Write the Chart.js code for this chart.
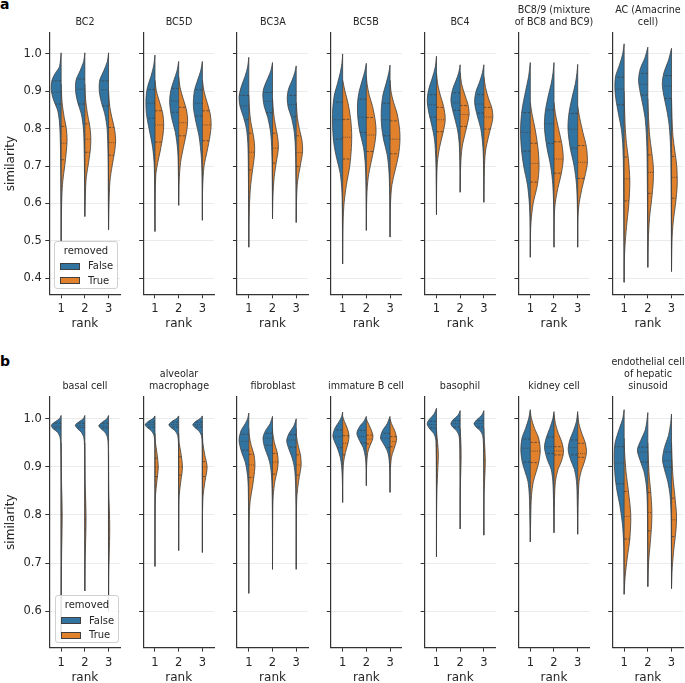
<!DOCTYPE html>
<html><head><meta charset="utf-8">
<script src="https://cdn.jsdelivr.net/npm/chart.js@4.4.1/dist/chart.umd.min.js"></script>
<style>
html,body{margin:0;padding:0;background:#fff;}
body{width:685px;height:683px;overflow:hidden;position:relative;font-family:"DejaVu Sans",sans-serif;color:#262626;}
canvas{position:absolute;}
.plab{position:absolute;font-weight:bold;font-size:14px;line-height:14px;color:#000;}
.leg{position:absolute;background:rgba(255,255,255,0.85);border:1px solid #d0d0d0;border-radius:3px;box-sizing:border-box;font-size:10px;}
.leg .t{position:absolute;left:0;right:0;text-align:center;line-height:12px;}
.leg .p{position:absolute;width:20px;height:7px;border:0.8px solid #3f3f3f;box-sizing:border-box;}
.leg .l{position:absolute;line-height:12px;}
</style></head>
<body>
<div class="plab" style="left:0px;top:-3px">a</div>
<div class="plab" style="left:0px;top:354px">b</div>
<script>
// ---------- labels ----------
const rankLabels = ['1', '2', '3'];
const yTicksA = [0.4, 0.5, 0.6, 0.7, 0.8, 0.9, 1.0];
const yTicksB = [0.6, 0.7, 0.8, 0.9, 1.0];
const titlesA = [['BC2'], ['BC5D'], ['BC3A'], ['BC5B'], ['BC4'], ['BC8/9 (mixture', 'of BC8 and BC9)'], ['AC (Amacrine', 'cell)']];
const titlesB = [['basal cell'], ['alveolar', 'macrophage'], ['fibroblast'], ['immature B cell'], ['basophil'], ['kidney cell'], ['endothelial cell', 'of hepatic', 'sinusoid']];
const seriesNames = ['False', 'True'];

// ---------- violin profiles: per rank, [similarity, half-width] from bottom to top ----------
// quartiles: per rank [Q1, median, Q3]
const BC2_F = [
  [[0.5,0],[0.6,0.01],[0.7,0.02],[0.78,0.04],[0.823,0.08],[0.85,0.15],[0.877,0.32],[0.905,0.42],[0.928,0.39],[0.94,0.32],[0.953,0.2],[0.966,0.07],[1.003,0]],
  [[0.565,0],[0.65,0.01],[0.75,0.03],[0.8,0.06],[0.84,0.15],[0.87,0.3],[0.9,0.39],[0.93,0.37],[0.955,0.2],[0.98,0.05],[1.003,0]],
  [[0.53,0],[0.62,0.01],[0.72,0.02],[0.8,0.06],[0.84,0.16],[0.87,0.3],[0.9,0.39],[0.93,0.37],[0.955,0.2],[0.98,0.05],[1.003,0]]];
const BC2_T = [
  [[0.5,0],[0.56,0.01],[0.62,0.03],[0.66,0.07],[0.7,0.15],[0.74,0.22],[0.77,0.25],[0.8,0.22],[0.83,0.13],[0.87,0.04],[0.92,0]],
  [[0.565,0],[0.62,0.02],[0.67,0.06],[0.71,0.16],[0.75,0.24],[0.78,0.25],[0.81,0.2],[0.84,0.11],[0.88,0.03],[0.92,0]],
  [[0.53,0],[0.6,0.02],[0.66,0.06],[0.7,0.15],[0.74,0.26],[0.77,0.3],[0.8,0.25],[0.83,0.14],[0.86,0.05],[0.9,0]]];
const BC2_FQ = [[0.866,0.898,0.928],[0.866,0.906,0.933],[0.861,0.904,0.928]];
const BC2_TQ = [[0.717,0.761,0.806],[0.737,0.772,0.813],[0.729,0.763,0.803]];

const BC5D_F = [
  [[0.525,0],[0.6,0.01],[0.7,0.03],[0.75,0.1],[0.8,0.25],[0.84,0.36],[0.88,0.38],[0.91,0.32],[0.94,0.17],[0.97,0.05],[0.997,0]],
  [[0.595,0],[0.67,0.01],[0.74,0.04],[0.79,0.14],[0.83,0.3],[0.87,0.38],[0.9,0.34],[0.93,0.2],[0.955,0.07],[0.98,0]],
  [[0.555,0],[0.65,0.01],[0.72,0.04],[0.78,0.14],[0.82,0.28],[0.86,0.38],[0.9,0.34],[0.93,0.2],[0.955,0.07],[0.98,0]]];
const BC5D_T = [
  [[0.525,0],[0.62,0.01],[0.68,0.04],[0.71,0.12],[0.74,0.22],[0.78,0.33],[0.81,0.37],[0.84,0.33],[0.87,0.2],[0.9,0.06],[0.93,0]],
  [[0.595,0],[0.66,0.02],[0.71,0.08],[0.75,0.2],[0.79,0.33],[0.82,0.38],[0.85,0.33],[0.88,0.19],[0.91,0.06],[0.94,0]],
  [[0.555,0],[0.64,0.01],[0.7,0.07],[0.74,0.2],[0.78,0.32],[0.81,0.37],[0.84,0.33],[0.87,0.2],[0.9,0.07],[0.93,0]]];
const BC5D_FQ = [[0.828,0.868,0.905],[0.844,0.874,0.908],[0.834,0.868,0.904]];
const BC5D_TQ = [[0.764,0.81,0.848],[0.781,0.816,0.857],[0.768,0.81,0.848]];

const BC3A_F = [
  [[0.483,0],[0.6,0.01],[0.7,0.02],[0.76,0.04],[0.8,0.1],[0.83,0.22],[0.86,0.37],[0.885,0.41],[0.91,0.33],[0.94,0.16],[0.965,0.05],[0.991,0]],
  [[0.559,0],[0.65,0.01],[0.74,0.03],[0.79,0.08],[0.83,0.2],[0.86,0.35],[0.89,0.41],[0.91,0.36],[0.935,0.2],[0.955,0.07],[0.977,0]],
  [[0.549,0],[0.65,0.01],[0.74,0.03],[0.79,0.08],[0.83,0.2],[0.855,0.33],[0.88,0.38],[0.905,0.33],[0.93,0.17],[0.95,0.06],[0.968,0]]];
const BC3A_T = [
  [[0.483,0],[0.55,0.01],[0.6,0.03],[0.65,0.08],[0.69,0.16],[0.73,0.24],[0.76,0.24],[0.79,0.17],[0.82,0.08],[0.85,0.03],[0.89,0]],
  [[0.559,0],[0.62,0.02],[0.67,0.07],[0.71,0.16],[0.75,0.25],[0.78,0.21],[0.81,0.12],[0.84,0.05],[0.88,0]],
  [[0.549,0],[0.62,0.02],[0.66,0.06],[0.7,0.17],[0.74,0.27],[0.77,0.24],[0.8,0.13],[0.83,0.05],[0.87,0]]];
const BC3A_FQ = [[0.824,0.861,0.889],[0.843,0.873,0.897],[0.832,0.865,0.889]];
const BC3A_TQ = [[0.69,0.737,0.788],[0.708,0.748,0.788],[0.699,0.736,0.781]];

const BC5B_F = [
  [[0.438,0],[0.55,0.01],[0.63,0.03],[0.68,0.1],[0.72,0.25],[0.76,0.37],[0.8,0.42],[0.85,0.42],[0.89,0.35],[0.92,0.22],[0.95,0.1],[0.975,0.03],[1.0,0]],
  [[0.528,0],[0.62,0.01],[0.7,0.04],[0.75,0.12],[0.79,0.27],[0.83,0.36],[0.87,0.37],[0.9,0.3],[0.93,0.17],[0.955,0.06],[0.975,0]],
  [[0.51,0],[0.6,0.01],[0.68,0.04],[0.73,0.12],[0.77,0.27],[0.81,0.36],[0.85,0.37],[0.89,0.3],[0.92,0.17],[0.95,0.05],[0.97,0]]];
const BC5B_T = [
  [[0.438,0],[0.55,0.02],[0.6,0.06],[0.65,0.16],[0.7,0.3],[0.75,0.37],[0.79,0.38],[0.83,0.33],[0.87,0.22],[0.9,0.1],[0.93,0]],
  [[0.528,0],[0.62,0.02],[0.67,0.08],[0.71,0.2],[0.75,0.33],[0.79,0.41],[0.82,0.38],[0.86,0.26],[0.89,0.12],[0.92,0.03],[0.94,0]],
  [[0.51,0],[0.6,0.02],[0.65,0.08],[0.69,0.22],[0.73,0.36],[0.77,0.42],[0.8,0.4],[0.84,0.3],[0.87,0.15],[0.9,0.04],[0.93,0]]];
const BC5B_FQ = [[0.772,0.824,0.871],[0.79,0.831,0.879],[0.781,0.824,0.868]];
const BC5B_TQ = [[0.719,0.777,0.825],[0.739,0.783,0.83],[0.733,0.772,0.821]];

const BC4_F = [
  [[0.57,0],[0.65,0.01],[0.72,0.03],[0.77,0.08],[0.81,0.2],[0.845,0.33],[0.875,0.39],[0.905,0.33],[0.935,0.18],[0.965,0.05],[0.994,0]],
  [[0.63,0],[0.7,0.01],[0.76,0.04],[0.8,0.12],[0.84,0.28],[0.875,0.39],[0.905,0.32],[0.93,0.17],[0.95,0.06],[0.971,0]],
  [[0.603,0],[0.69,0.01],[0.75,0.04],[0.8,0.13],[0.835,0.28],[0.87,0.39],[0.9,0.33],[0.925,0.18],[0.95,0.06],[0.971,0]]];
const BC4_T = [
  [[0.57,0],[0.66,0.01],[0.71,0.04],[0.75,0.13],[0.79,0.28],[0.825,0.37],[0.86,0.3],[0.89,0.16],[0.92,0.05],[0.95,0]],
  [[0.63,0],[0.7,0.02],[0.75,0.08],[0.79,0.22],[0.82,0.33],[0.84,0.38],[0.865,0.33],[0.89,0.2],[0.92,0.06],[0.95,0]],
  [[0.603,0],[0.69,0.02],[0.74,0.07],[0.78,0.2],[0.81,0.32],[0.83,0.38],[0.855,0.34],[0.88,0.2],[0.91,0.07],[0.94,0]]];
const BC4_FQ = [[0.831,0.864,0.891],[0.849,0.869,0.896],[0.842,0.866,0.891]];
const BC4_TQ = [[0.792,0.824,0.857],[0.806,0.838,0.862],[0.799,0.831,0.857]];

const BC89_F = [
  [[0.456,0],[0.55,0.01],[0.6,0.04],[0.65,0.12],[0.7,0.28],[0.75,0.38],[0.8,0.41],[0.85,0.35],[0.9,0.2],[0.94,0.07],[0.977,0]],
  [[0.483,0],[0.58,0.01],[0.65,0.05],[0.7,0.14],[0.75,0.3],[0.8,0.4],[0.84,0.38],[0.88,0.27],[0.92,0.12],[0.95,0.04],[0.977,0]],
  [[0.483,0],[0.58,0.01],[0.65,0.05],[0.7,0.15],[0.75,0.32],[0.8,0.41],[0.84,0.37],[0.88,0.25],[0.92,0.1],[0.95,0.03],[0.972,0]]];
const BC89_T = [
  [[0.456,0],[0.52,0.01],[0.55,0.03],[0.6,0.12],[0.65,0.3],[0.7,0.37],[0.75,0.32],[0.8,0.2],[0.84,0.07],[0.87,0]],
  [[0.483,0],[0.56,0.01],[0.6,0.05],[0.64,0.16],[0.68,0.31],[0.72,0.39],[0.76,0.33],[0.8,0.19],[0.84,0.06],[0.87,0]],
  [[0.483,0],[0.56,0.01],[0.6,0.06],[0.64,0.18],[0.68,0.33],[0.71,0.41],[0.75,0.37],[0.79,0.22],[0.83,0.08],[0.86,0]]];
const BC89_FQ = [[0.74,0.79,0.843],[0.761,0.813,0.85],[0.748,0.799,0.841]];
const BC89_TQ = [[0.657,0.707,0.761],[0.681,0.719,0.765],[0.667,0.71,0.755]];

const AC_F = [
  [[0.389,0],[0.5,0.01],[0.6,0.02],[0.7,0.03],[0.76,0.06],[0.8,0.12],[0.84,0.24],[0.88,0.35],[0.91,0.39],[0.94,0.36],[0.97,0.2],[1.0,0.06],[1.027,0]],
  [[0.429,0],[0.55,0.01],[0.65,0.02],[0.75,0.04],[0.82,0.1],[0.86,0.2],[0.9,0.33],[0.93,0.39],[0.96,0.32],[0.99,0.12],[1.018,0]],
  [[0.418,0],[0.55,0.01],[0.65,0.02],[0.75,0.04],[0.81,0.1],[0.85,0.2],[0.89,0.33],[0.92,0.39],[0.95,0.32],[0.985,0.12],[1.015,0]]];
const AC_T = [
  [[0.389,0],[0.45,0.01],[0.5,0.05],[0.55,0.12],[0.6,0.2],[0.66,0.24],[0.72,0.18],[0.76,0.1],[0.8,0.05],[0.85,0.02],[0.9,0]],
  [[0.429,0],[0.5,0.02],[0.56,0.07],[0.61,0.16],[0.66,0.23],[0.7,0.23],[0.74,0.16],[0.78,0.08],[0.83,0.03],[0.88,0]],
  [[0.418,0],[0.5,0.02],[0.55,0.07],[0.6,0.17],[0.65,0.24],[0.7,0.22],[0.74,0.14],[0.78,0.06],[0.83,0.02],[0.88,0]]];
const AC_FQ = [[0.864,0.906,0.938],[0.89,0.919,0.948],[0.881,0.914,0.942]];
const AC_TQ = [[0.607,0.666,0.724],[0.627,0.683,0.73],[0.614,0.67,0.726]];

const BAS_F = [
  [[0.55,0],[0.8,0.005],[0.93,0.01],[0.96,0.04],[0.972,0.15],[0.98,0.35],[0.987,0.41],[0.994,0.25],[1.0,0.07],[1.007,0]],
  [[0.642,0],[0.85,0.005],[0.93,0.01],[0.96,0.04],[0.972,0.15],[0.98,0.32],[0.987,0.4],[0.994,0.24],[1.0,0.07],[1.007,0]],
  [[0.6,0],[0.85,0.005],[0.93,0.01],[0.96,0.04],[0.972,0.15],[0.98,0.33],[0.986,0.41],[0.994,0.24],[1.0,0.07],[1.007,0]]];
const BAS_T = [
  [[0.55,0],[0.65,0.005],[0.72,0.02],[0.76,0.035],[0.8,0.045],[0.84,0.03],[0.88,0.01],[0.95,0]],
  [[0.642,0],[0.7,0.01],[0.74,0.03],[0.79,0.05],[0.83,0.035],[0.87,0.01],[0.95,0]],
  [[0.6,0],[0.68,0.01],[0.72,0.03],[0.77,0.05],[0.81,0.035],[0.85,0.01],[0.93,0]]];
const BAS_FQ = [[0.981,0.985,0.991],[0.982,0.986,0.991],[0.981,0.985,0.991]];
const BAS_TQ = [[0.76,0.8,0.83],[0.77,0.79,0.82],[0.75,0.77,0.8]];

const ALV_F = [
  [[0.693,0],[0.9,0.005],[0.95,0.01],[0.965,0.04],[0.975,0.15],[0.982,0.33],[0.988,0.41],[0.995,0.27],[1.0,0.1],[1.006,0]],
  [[0.726,0],[0.9,0.005],[0.95,0.01],[0.965,0.04],[0.975,0.15],[0.982,0.33],[0.988,0.41],[0.995,0.27],[1.0,0.1],[1.006,0]],
  [[0.722,0],[0.9,0.005],[0.95,0.01],[0.965,0.04],[0.975,0.15],[0.982,0.32],[0.988,0.4],[0.995,0.27],[1.0,0.1],[1.006,0]]];
const ALV_T = [
  [[0.693,0],[0.8,0.005],[0.84,0.02],[0.87,0.08],[0.9,0.14],[0.93,0.08],[0.95,0.02],[0.97,0]],
  [[0.726,0],[0.8,0.005],[0.84,0.02],[0.87,0.09],[0.9,0.16],[0.93,0.09],[0.95,0.02],[0.97,0]],
  [[0.722,0],[0.8,0.005],[0.84,0.03],[0.87,0.11],[0.9,0.2],[0.925,0.1],[0.95,0.02],[0.97,0]]];
const ALV_FQ = [[0.983,0.988,0.993],[0.983,0.988,0.993],[0.983,0.988,0.993]];
const ALV_TQ = [[0.88,0.9,0.918],[0.883,0.9,0.921],[0.88,0.9,0.911]];

const FIB_F = [
  [[0.637,0],[0.75,0.005],[0.85,0.02],[0.88,0.05],[0.91,0.15],[0.93,0.3],[0.955,0.41],[0.975,0.33],[0.99,0.15],[1.0,0.05],[1.012,0]],
  [[0.687,0],[0.8,0.005],[0.87,0.03],[0.9,0.08],[0.92,0.18],[0.94,0.33],[0.96,0.4],[0.975,0.3],[0.99,0.1],[1.005,0]],
  [[0.687,0],[0.8,0.005],[0.87,0.03],[0.9,0.08],[0.92,0.18],[0.94,0.33],[0.955,0.4],[0.97,0.3],[0.985,0.1],[1.0,0]]];
const FIB_T = [
  [[0.637,0],[0.75,0.01],[0.8,0.02],[0.83,0.06],[0.86,0.16],[0.89,0.24],[0.905,0.26],[0.925,0.22],[0.945,0.1],[0.965,0.02],[0.98,0]],
  [[0.687,0],[0.8,0.01],[0.84,0.03],[0.87,0.1],[0.89,0.19],[0.91,0.24],[0.93,0.2],[0.95,0.08],[0.97,0.01],[0.98,0]],
  [[0.687,0],[0.8,0.01],[0.84,0.03],[0.87,0.1],[0.89,0.17],[0.905,0.21],[0.925,0.18],[0.945,0.08],[0.965,0.01],[0.98,0]]];
const FIB_FQ = [[0.935,0.953,0.968],[0.945,0.96,0.97],[0.941,0.956,0.967]];
const FIB_TQ = [[0.878,0.904,0.926],[0.885,0.91,0.928],[0.883,0.904,0.925]];

const IMB_F = [
  [[0.826,0],[0.87,0.01],[0.9,0.04],[0.92,0.1],[0.94,0.23],[0.955,0.36],[0.965,0.41],[0.98,0.33],[0.995,0.14],[1.005,0.04],[1.014,0]],
  [[0.861,0],[0.9,0.01],[0.92,0.04],[0.94,0.13],[0.955,0.29],[0.97,0.4],[0.985,0.27],[0.995,0.1],[1.005,0]],
  [[0.847,0],[0.89,0.01],[0.92,0.05],[0.935,0.13],[0.95,0.3],[0.96,0.4],[0.975,0.32],[0.99,0.12],[1.005,0]]];
const IMB_T = [
  [[0.826,0],[0.88,0.01],[0.91,0.04],[0.93,0.12],[0.95,0.23],[0.965,0.27],[0.98,0.2],[0.995,0.07],[1.005,0]],
  [[0.861,0],[0.9,0.01],[0.93,0.06],[0.945,0.16],[0.955,0.25],[0.965,0.28],[0.98,0.18],[0.995,0.04],[1.0,0]],
  [[0.847,0],[0.89,0.01],[0.92,0.06],[0.935,0.15],[0.95,0.25],[0.96,0.28],[0.975,0.2],[0.99,0.06],[1.0,0]]];
const IMB_FQ = [[0.94,0.963,0.977],[0.95,0.963,0.976],[0.94,0.96,0.97]];
const IMB_TQ = [[0.925,0.949,0.965],[0.948,0.958,0.966],[0.942,0.953,0.963]];

const BASO_F = [
  [[0.713,0],[0.9,0.005],[0.95,0.02],[0.96,0.04],[0.97,0.12],[0.98,0.3],[0.989,0.39],[0.997,0.33],[1.01,0.1],[1.022,0]],
  [[0.771,0],[0.9,0.005],[0.95,0.02],[0.965,0.05],[0.975,0.15],[0.983,0.32],[0.99,0.39],[0.998,0.3],[1.008,0.08],[1.017,0]],
  [[0.758,0],[0.9,0.005],[0.95,0.02],[0.965,0.05],[0.975,0.15],[0.983,0.33],[0.99,0.41],[0.998,0.3],[1.008,0.08],[1.017,0]]];
const BASO_T = [
  [[0.713,0],[0.8,0.005],[0.85,0.02],[0.9,0.06],[0.925,0.08],[0.95,0.05],[0.97,0.01],[0.98,0]],
  [[0.771,0],[0.85,0.005],[0.88,0.02],[0.92,0.04],[0.95,0.03],[0.97,0.01],[0.98,0]],
  [[0.758,0],[0.84,0.005],[0.87,0.03],[0.91,0.06],[0.94,0.04],[0.965,0.01],[0.98,0]]];
const BASO_FQ = [[0.981,0.988,0.995],[0.983,0.99,0.996],[0.983,0.99,0.996]];
const BASO_TQ = [[0.866,0.908,0.944],[0.89,0.92,0.94],[0.89,0.915,0.935]];

const KID_F = [
  [[0.744,0],[0.8,0.02],[0.84,0.04],[0.87,0.1],[0.89,0.22],[0.91,0.34],[0.935,0.4],[0.96,0.35],[0.98,0.2],[1.0,0.07],[1.019,0]],
  [[0.763,0],[0.83,0.02],[0.87,0.05],[0.895,0.12],[0.915,0.28],[0.94,0.4],[0.96,0.33],[0.98,0.18],[1.0,0.05],[1.015,0]],
  [[0.76,0],[0.83,0.02],[0.87,0.05],[0.895,0.14],[0.915,0.3],[0.935,0.4],[0.955,0.34],[0.975,0.18],[0.995,0.05],[1.015,0]]];
const KID_T = [
  [[0.744,0],[0.8,0.02],[0.84,0.05],[0.87,0.13],[0.89,0.25],[0.91,0.36],[0.935,0.42],[0.96,0.35],[0.98,0.18],[1.0,0.05],[1.015,0]],
  [[0.763,0],[0.83,0.02],[0.87,0.06],[0.895,0.17],[0.91,0.3],[0.93,0.4],[0.95,0.34],[0.97,0.18],[0.99,0.06],[1.01,0]],
  [[0.76,0],[0.83,0.02],[0.87,0.06],[0.89,0.14],[0.91,0.28],[0.93,0.37],[0.95,0.32],[0.97,0.17],[0.99,0.05],[1.01,0]]];
const KID_FQ = [[0.91,0.939,0.958],[0.928,0.942,0.962],[0.925,0.94,0.956]];
const KID_TQ = [[0.909,0.933,0.951],[0.925,0.933,0.942],[0.92,0.928,0.949]];

const END_F = [
  [[0.635,0],[0.7,0.01],[0.74,0.02],[0.78,0.07],[0.82,0.18],[0.85,0.3],[0.88,0.38],[0.92,0.42],[0.95,0.38],[0.98,0.2],[1.0,0.06],[1.019,0]],
  [[0.651,0],[0.75,0.01],[0.82,0.02],[0.86,0.06],[0.89,0.16],[0.91,0.3],[0.935,0.44],[0.955,0.3],[0.975,0.12],[0.995,0.04],[1.013,0]],
  [[0.647,0],[0.75,0.01],[0.8,0.02],[0.84,0.06],[0.87,0.16],[0.895,0.3],[0.915,0.38],[0.94,0.3],[0.965,0.13],[0.99,0.04],[1.01,0]]];
const END_T = [
  [[0.635,0],[0.67,0.04],[0.71,0.13],[0.75,0.24],[0.8,0.28],[0.85,0.18],[0.89,0.08],[0.93,0.02],[0.96,0]],
  [[0.651,0],[0.7,0.03],[0.74,0.1],[0.78,0.16],[0.81,0.17],[0.85,0.12],[0.88,0.06],[0.92,0.02],[0.95,0]],
  [[0.647,0],[0.69,0.03],[0.73,0.1],[0.77,0.19],[0.8,0.21],[0.84,0.14],[0.88,0.06],[0.92,0.02],[0.95,0]]];
const END_FQ = [[0.865,0.908,0.942],[0.91,0.931,0.941],[0.9,0.913,0.931]];
const END_TQ = [[0.75,0.797,0.849],[0.767,0.805,0.847],[0.755,0.79,0.835]];

// ---------- styling / layout ----------
const BLUE = '#3274a1', ORANGE = '#e1812c', EDGE = '#3f3f3f', TXT = '#262626';
const FONT = "'DejaVu Sans', sans-serif";
const rows = {
  a: {canvasTop: 0, chartTop: 33, chartBottom: 294.3, yMin: 0.357, yMax: 1.056, ticks: yTicksA, titleCenter: 22},
  b: {canvasTop: 340, chartTop: 396.7, chartBottom: 647.7, yMin: 0.524, yMax: 1.046, ticks: yTicksB, titleCenter: 386}
};
const panelList = [
  ['a', titlesA[0], BC2_F, BC2_T, BC2_FQ, BC2_TQ],
  ['a', titlesA[1], BC5D_F, BC5D_T, BC5D_FQ, BC5D_TQ],
  ['a', titlesA[2], BC3A_F, BC3A_T, BC3A_FQ, BC3A_TQ],
  ['a', titlesA[3], BC5B_F, BC5B_T, BC5B_FQ, BC5B_TQ],
  ['a', titlesA[4], BC4_F, BC4_T, BC4_FQ, BC4_TQ],
  ['a', titlesA[5], BC89_F, BC89_T, BC89_FQ, BC89_TQ],
  ['a', titlesA[6], AC_F, AC_T, AC_FQ, AC_TQ],
  ['b', titlesB[0], BAS_F, BAS_T, BAS_FQ, BAS_TQ],
  ['b', titlesB[1], ALV_F, ALV_T, ALV_FQ, ALV_TQ],
  ['b', titlesB[2], FIB_F, FIB_T, FIB_FQ, FIB_TQ],
  ['b', titlesB[3], IMB_F, IMB_T, IMB_FQ, IMB_TQ],
  ['b', titlesB[4], BASO_F, BASO_T, BASO_FQ, BASO_TQ],
  ['b', titlesB[5], KID_F, KID_T, KID_FQ, KID_TQ],
  ['b', titlesB[6], END_F, END_T, END_FQ, END_TQ]
];

function widthAt(prof, y) {
  for (let i = 1; i < prof.length; i++) {
    const [y0, w0] = prof[i - 1], [y1, w1] = prof[i];
    if (y >= y0 && y <= y1) return w0 + (w1 - w0) * (y - y0) / (y1 - y0);
  }
  return 0;
}

function buildDatasets(F, T, FQ, TQ) {
  const ds = [];
  for (let r = 0; r < 3; r++) {
    const halves = [[F[r], FQ[r], -1, BLUE], [T[r], TQ[r], 1, ORANGE]];
    for (const [prof, quart, sgn, col] of halves) {
      ds.push({
        data: prof.map(([y, w]) => ({x: r + sgn * w, y})),
        showLine: true, fill: 'shape', backgroundColor: col, borderColor: EDGE,
        borderWidth: 0.8, pointRadius: 0, tension: 0.3, order: 3
      });
      quart.forEach((q, k) => {
        ds.push({
          data: [{x: r, y: q}, {x: r + sgn * widthAt(prof, q), y: q}],
          showLine: true, fill: false, borderColor: EDGE, borderWidth: 0.75,
          borderDash: k === 1 ? [1, 1.2] : [2.6, 1.4], pointRadius: 0, tension: 0, order: 1
        });
      });
    }
    const lo = Math.min(F[r][0][0], T[r][0][0]);
    const hi = Math.max(F[r][F[r].length - 1][0], T[r][T[r].length - 1][0]);
    ds.push({data: [{x: r, y: lo}, {x: r, y: hi}], showLine: true, fill: false,
      borderColor: EDGE, borderWidth: 0.8, pointRadius: 0, tension: 0, order: 2});
  }
  return ds;
}

const PLOT_W = 71.1;
const colCount = {a: 0, b: 0};
panelList.forEach(([rowKey, title, F, T, FQ, TQ]) => {
  const row = rows[rowKey];
  const col = colCount[rowKey]++;
  const x0 = 49.3 + 93.83 * col;
  const cx = x0 + PLOT_W / 2;
  const first = col === 0;
  const half = first ? cx : 50;
  const L = first ? 0 : Math.round(cx - half);
  const W = Math.round(2 * half);
  const yW = x0 - L;
  const rightW = W - yW - PLOT_W;
  const xAxisH = 46;
  const H = Math.round(row.chartBottom - row.canvasTop + xAxisH);
  const bottomPad = H - (row.chartBottom - row.canvasTop) - xAxisH;
  const tSize = 9.6, tLH = tSize * 1.2;
  const n = title.length;
  const cRel = row.titleCenter - row.canvasTop;
  const tTop = cRel - tLH / 2 - (n - 1) * tLH;
  const tBot = (row.chartTop - row.canvasTop) - (cRel + tLH / 2);

  const cv = document.createElement('canvas');
  cv.width = W; cv.height = H;
  cv.style.left = L + 'px'; cv.style.top = row.canvasTop + 'px';
  cv.style.width = W + 'px'; cv.style.height = H + 'px';
  document.body.appendChild(cv);

  new Chart(cv, {
    type: 'scatter',
    data: {datasets: buildDatasets(F, T, FQ, TQ)},
    options: {
      responsive: false, animation: false, devicePixelRatio: 1, events: [],
      layout: {padding: {left: 0, right: 0, top: 0, bottom: bottomPad}},
      plugins: {
        legend: {display: false}, tooltip: {enabled: false},
        title: {display: true, text: title, color: TXT, fullSize: true,
          font: {family: FONT, size: tSize, weight: 'normal', lineHeight: 1.2},
          padding: {top: tTop, bottom: tBot}}
      },
      scales: {
        x: {
          type: 'linear', min: -0.5, max: 2.5,
          afterBuildTicks: (ax) => { ax.ticks = rankLabels.map((_, i) => ({value: i})); },
          afterFit: (ax) => { ax.height = xAxisH; },
          ticks: {callback: (v) => rankLabels[Math.round(v)], color: TXT, padding: 4,
            font: {family: FONT, size: 11.5}, maxRotation: 0, autoSkip: false},
          grid: {drawOnChartArea: false, drawTicks: true, tickLength: 4, tickColor: '#333', tickWidth: 1},
          border: {display: true, color: '#333', width: 1.2},
          title: {display: true, text: 'rank', color: TXT, font: {family: FONT, size: 12},
            padding: {top: 0, bottom: 8.8}}
        },
        y: {
          type: 'linear', min: row.yMin, max: row.yMax,
          afterBuildTicks: (ax) => { ax.ticks = row.ticks.map(v => ({value: v})); },
          afterFit: (ax) => { ax.width = yW; },
          ticks: {display: first, callback: (v) => v.toFixed(1), color: TXT, padding: 3.6,
            font: {family: FONT, size: 11.5}, autoSkip: false},
          grid: {color: '#ebebeb', lineWidth: 1, drawTicks: true, tickLength: 4, tickColor: '#333', tickWidth: 1},
          border: {display: true, color: '#333', width: 1.2},
          title: {display: first, text: 'similarity', color: TXT, font: {family: FONT, size: 12},
            padding: {top: 3.6, bottom: 0}}
        },
        yr: {
          type: 'linear', position: 'right', min: row.yMin, max: row.yMax,
          afterFit: (ax) => { ax.width = rightW; },
          ticks: {display: false}, grid: {display: false}, border: {display: false}
        }
      }
    }
  });
});

// ---------- legends (one per row, inside first panel) ----------
function addLegend(left, top, h) {
  const d = document.createElement('div');
  d.className = 'leg';
  d.style.left = left + 'px'; d.style.top = top + 'px';
  d.style.width = '64px'; d.style.height = h + 'px';
  let html = '<div class="t" style="top:3px">removed</div>';
  const cols = [BLUE, ORANGE];
  seriesNames.forEach((nm, i) => {
    const cy = 25 + i * 14.5;
    html += `<div class="p" style="left:5px;top:${cy - 4}px;background:${cols[i]}"></div>`;
    html += `<div class="l" style="left:33px;top:${cy - 6.5}px">${nm}</div>`;
  });
  d.innerHTML = html;
  document.body.appendChild(d);
}
addLegend(54, 240.7, 48);
addLegend(55, 595, 47.7);
</script>
</body></html>
